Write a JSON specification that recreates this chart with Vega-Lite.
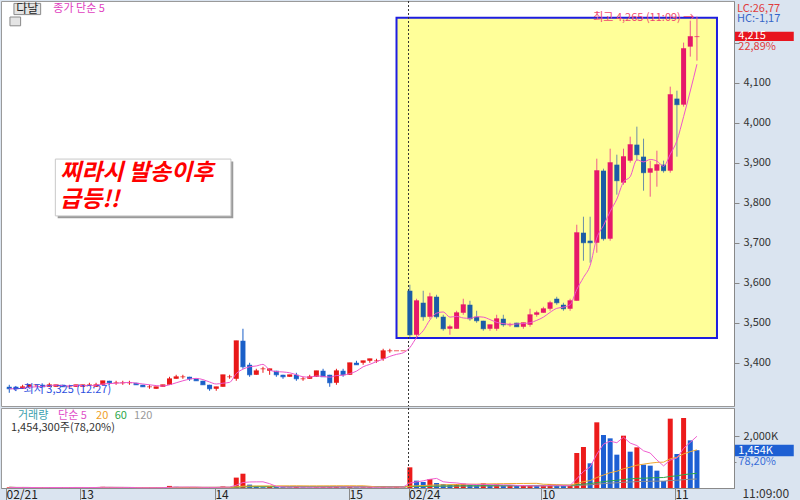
{
"$schema": "https://vega.github.io/schema/vega-lite/v6.json",
"background": "#dae4f0",
"padding": 0,
"spacing": 0,
"config": {"view": {"fill": "#ffffff", "stroke": "#9a9a9a"}, "font": "Noto Sans CJK KR", "text": {"font": "Noto Sans CJK KR"}, "axis": {"labelFont": "Noto Sans CJK KR"}},
"datasets": {
"candles": [
{"i":0,"o":3340,"h":3345,"l":3325,"c":3335,"v":25000},
{"i":1,"o":3340,"h":3340,"l":3330,"c":3335,"v":15000},
{"i":2,"o":3335,"h":3345,"l":3335,"c":3340,"v":20000},
{"i":3,"o":3340,"h":3345,"l":3340,"c":3345,"v":18000},
{"i":4,"o":3345,"h":3345,"l":3340,"c":3345,"v":10000},
{"i":5,"o":3345,"h":3345,"l":3340,"c":3340,"v":12000},
{"i":6,"o":3340,"h":3350,"l":3340,"c":3345,"v":30000},
{"i":7,"o":3340,"h":3345,"l":3340,"c":3345,"v":22000},
{"i":8,"o":3345,"h":3345,"l":3340,"c":3340,"v":15000},
{"i":9,"o":3340,"h":3345,"l":3340,"c":3340,"v":10000},
{"i":10,"o":3340,"h":3345,"l":3340,"c":3345,"v":25000},
{"i":11,"o":3340,"h":3345,"l":3340,"c":3345,"v":28000},
{"i":12,"o":3345,"h":3350,"l":3345,"c":3345,"v":12000},
{"i":13,"o":3340,"h":3350,"l":3340,"c":3345,"v":20000},
{"i":14,"o":3345,"h":3355,"l":3345,"c":3355,"v":45000},
{"i":15,"o":3355,"h":3355,"l":3345,"c":3350,"v":30000},
{"i":16,"o":3350,"h":3355,"l":3345,"c":3350,"v":12000},
{"i":17,"o":3350,"h":3355,"l":3345,"c":3350,"v":10000},
{"i":18,"o":3350,"h":3355,"l":3345,"c":3350,"v":8000},
{"i":19,"o":3350,"h":3350,"l":3345,"c":3345,"v":10000},
{"i":20,"o":3345,"h":3345,"l":3340,"c":3340,"v":12000},
{"i":21,"o":3340,"h":3345,"l":3335,"c":3340,"v":9000},
{"i":22,"o":3335,"h":3340,"l":3335,"c":3340,"v":20000},
{"i":23,"o":3340,"h":3345,"l":3340,"c":3345,"v":15000},
{"i":24,"o":3345,"h":3365,"l":3345,"c":3360,"v":80000},
{"i":25,"o":3360,"h":3370,"l":3360,"c":3365,"v":45000},
{"i":26,"o":3365,"h":3370,"l":3360,"c":3365,"v":20000},
{"i":27,"o":3365,"h":3365,"l":3355,"c":3360,"v":25000},
{"i":28,"o":3360,"h":3360,"l":3355,"c":3355,"v":12000},
{"i":29,"o":3355,"h":3355,"l":3345,"c":3345,"v":28000},
{"i":30,"o":3345,"h":3345,"l":3330,"c":3335,"v":35000},
{"i":31,"o":3335,"h":3340,"l":3330,"c":3340,"v":22000},
{"i":32,"o":3340,"h":3370,"l":3340,"c":3370,"v":60000},
{"i":33,"o":3365,"h":3370,"l":3360,"c":3365,"v":20000},
{"i":34,"o":3360,"h":3455,"l":3355,"c":3455,"v":400000},
{"i":35,"o":3455,"h":3485,"l":3385,"c":3390,"v":550000},
{"i":36,"o":3395,"h":3400,"l":3365,"c":3370,"v":130000},
{"i":37,"o":3370,"h":3385,"l":3370,"c":3380,"v":80000},
{"i":38,"o":3385,"h":3390,"l":3375,"c":3385,"v":30000},
{"i":39,"o":3380,"h":3385,"l":3370,"c":3385,"v":40000},
{"i":40,"o":3380,"h":3380,"l":3365,"c":3370,"v":35000},
{"i":41,"o":3370,"h":3370,"l":3360,"c":3365,"v":30000},
{"i":42,"o":3365,"h":3370,"l":3365,"c":3370,"v":28000},
{"i":43,"o":3370,"h":3375,"l":3355,"c":3360,"v":50000},
{"i":44,"o":3360,"h":3365,"l":3355,"c":3360,"v":25000},
{"i":45,"o":3360,"h":3370,"l":3360,"c":3365,"v":20000},
{"i":46,"o":3365,"h":3380,"l":3365,"c":3380,"v":30000},
{"i":47,"o":3380,"h":3385,"l":3365,"c":3365,"v":35000},
{"i":48,"o":3370,"h":3370,"l":3340,"c":3350,"v":45000},
{"i":49,"o":3350,"h":3385,"l":3345,"c":3380,"v":55000},
{"i":50,"o":3380,"h":3385,"l":3365,"c":3370,"v":30000},
{"i":51,"o":3370,"h":3400,"l":3370,"c":3400,"v":40000},
{"i":52,"o":3400,"h":3405,"l":3395,"c":3395,"v":25000},
{"i":53,"o":3400,"h":3405,"l":3395,"c":3405,"v":30000},
{"i":54,"o":3405,"h":3410,"l":3400,"c":3410,"v":35000},
{"i":55,"o":3405,"h":3410,"l":3400,"c":3405,"v":20000},
{"i":56,"o":3410,"h":3435,"l":3405,"c":3430,"v":55000},
{"i":57,"o":3430,"h":3435,"l":3425,"c":3430,"v":30000},
{"i":58,"o":3430,"h":3430,"l":3430,"c":3430,"v":50000},
{"i":59,"o":3430,"h":3430,"l":3430,"c":3430,"v":20000},
{"i":60,"o":3580,"h":3595,"l":3465,"c":3470,"v":795000},
{"i":61,"o":3470,"h":3560,"l":3465,"c":3555,"v":282000},
{"i":62,"o":3550,"h":3580,"l":3505,"c":3515,"v":230000},
{"i":63,"o":3515,"h":3575,"l":3510,"c":3565,"v":346000},
{"i":64,"o":3565,"h":3570,"l":3510,"c":3515,"v":192000},
{"i":65,"o":3515,"h":3520,"l":3480,"c":3485,"v":154000},
{"i":66,"o":3485,"h":3495,"l":3470,"c":3490,"v":128000},
{"i":67,"o":3485,"h":3530,"l":3485,"c":3525,"v":154000},
{"i":68,"o":3525,"h":3560,"l":3520,"c":3545,"v":167000},
{"i":69,"o":3545,"h":3555,"l":3505,"c":3510,"v":115000},
{"i":70,"o":3515,"h":3530,"l":3500,"c":3505,"v":103000},
{"i":71,"o":3505,"h":3505,"l":3480,"c":3485,"v":180000},
{"i":72,"o":3485,"h":3495,"l":3480,"c":3495,"v":90000},
{"i":73,"o":3485,"h":3520,"l":3480,"c":3510,"v":141000},
{"i":74,"o":3510,"h":3520,"l":3490,"c":3495,"v":90000},
{"i":75,"o":3495,"h":3500,"l":3490,"c":3495,"v":95000},
{"i":76,"o":3500,"h":3500,"l":3490,"c":3490,"v":77000},
{"i":77,"o":3490,"h":3500,"l":3485,"c":3500,"v":80000},
{"i":78,"o":3495,"h":3535,"l":3490,"c":3520,"v":95000},
{"i":79,"o":3520,"h":3530,"l":3515,"c":3525,"v":77000},
{"i":80,"o":3525,"h":3540,"l":3525,"c":3535,"v":100000},
{"i":81,"o":3535,"h":3555,"l":3530,"c":3550,"v":154000},
{"i":82,"o":3560,"h":3565,"l":3545,"c":3550,"v":90000},
{"i":83,"o":3545,"h":3550,"l":3530,"c":3535,"v":77000},
{"i":84,"o":3535,"h":3560,"l":3530,"c":3555,"v":90000},
{"i":85,"o":3555,"h":3745,"l":3555,"c":3725,"v":1346000},
{"i":86,"o":3725,"h":3765,"l":3655,"c":3700,"v":1577000},
{"i":87,"o":3705,"h":3765,"l":3650,"c":3700,"v":950000},
{"i":88,"o":3700,"h":3910,"l":3675,"c":3880,"v":2526000},
{"i":89,"o":3880,"h":3885,"l":3705,"c":3710,"v":2038000},
{"i":90,"o":3710,"h":3935,"l":3705,"c":3900,"v":1910000},
{"i":91,"o":3895,"h":3920,"l":3820,"c":3855,"v":1282000},
{"i":92,"o":3850,"h":3935,"l":3845,"c":3915,"v":2013000},
{"i":93,"o":3905,"h":3965,"l":3900,"c":3945,"v":1397000},
{"i":94,"o":3945,"h":3990,"l":3905,"c":3920,"v":1564000},
{"i":95,"o":3915,"h":3960,"l":3830,"c":3875,"v":897000},
{"i":96,"o":3875,"h":3905,"l":3815,"c":3885,"v":859000},
{"i":97,"o":3880,"h":3930,"l":3840,"c":3895,"v":667000},
{"i":98,"o":3895,"h":3905,"l":3875,"c":3880,"v":270000},
{"i":99,"o":3880,"h":4090,"l":3875,"c":4070,"v":2667000},
{"i":100,"o":4060,"h":4080,"l":3915,"c":4045,"v":1308000},
{"i":101,"o":4045,"h":4200,"l":4040,"c":4185,"v":2692000},
{"i":102,"o":4190,"h":4255,"l":4165,"c":4215,"v":1833000},
{"i":103,"o":4215,"h":4265,"l":4155,"c":4215,"v":1454300}
]
},
"vconcat": [
{
"width": 733, "height": 405,
"encoding": {"x": {"field": "i", "type": "quantitative", "scale": {"domain": [-0.49, 107.8], "nice": false, "zero": false}, "axis": null}},
"layer": [
{"data": {"values": [{"i": 58.0, "i2": 106.0, "p": 3462, "p2": 4262}]},
 "mark": {"type": "rect", "fill": "#ffff99", "stroke": "#1e1ee0", "strokeWidth": 2},
 "encoding": {"x2": {"field": "i2"},
  "y": {"field": "p", "type": "quantitative", "title": null, "scale": {"domain": [3292, 4304], "nice": false, "zero": false},
   "axis": {"orient": "right", "title": null, "grid": false,
    "values": [3400,3425,3450,3475,3500,3525,3550,3575,3600,3625,3650,3675,3700,3725,3750,3775,3800,3825,3850,3875,3900,3925,3950,3975,4000,4025,4050,4075,4100,4125,4150,4175,4200,4225,4250,4275],
    "labelExpr": "(datum.value % 100 == 0 && datum.value <= 4100) ? format(datum.value, ',') : ''",
    "tickSize": {"condition": {"test": "datum.value % 100 == 0", "value": 5}, "value": 2},
    "tickColor": "#888", "domainColor": "#888", "labelColor": "#333", "labelFontSize": 11, "labelPadding": 4,
    "labelOverlap": false, "labelBound": false, "labelFlush": false, "minExtent": 67, "maxExtent": 67}},
  "y2": {"field": "p2"}}},
{"data": {"values": [{"i": 59.8}]}, "mark": {"type": "rule", "color": "#333", "strokeDash": [2, 2], "strokeWidth": 1}, "encoding": {}},
{"data": {"name": "candles"},
 "mark": {"type": "rule", "strokeWidth": 1},
 "encoding": {"y": {"field": "l", "type": "quantitative", "title": null}, "y2": {"field": "h"},
  "color": {"condition": [{"test": "datum.i >= 60 && datum.c >= datum.o", "value": "#ef5a8c"}, {"test": "datum.i >= 60", "value": "#6b8ea6"}, {"test": "datum.c >= datum.o", "value": "#e81818"}], "value": "#1a5fc8"}}},
{"data": {"name": "candles"},
 "mark": {"type": "bar", "width": 5},
 "encoding": {"y": {"field": "o", "type": "quantitative", "title": null}, "y2": {"field": "c"},
  "color": {"condition": [{"test": "datum.i >= 60 && datum.c >= datum.o", "value": "#e6186a"}, {"test": "datum.i >= 60", "value": "#1b5ca6"}, {"test": "datum.c >= datum.o", "value": "#e81818"}], "value": "#1a5fc8"}}},
{"data": {"name": "candles"},
 "mark": {"type": "tick", "orient": "horizontal", "size": 5, "thickness": 1},
 "encoding": {"y": {"field": "c", "type": "quantitative", "title": null},
  "color": {"condition": [{"test": "datum.i >= 60 && datum.c >= datum.o", "value": "#e6186a"}, {"test": "datum.i >= 60", "value": "#1b5ca6"}, {"test": "datum.c >= datum.o", "value": "#e81818"}], "value": "#1a5fc8"}}},
{"data": {"name": "candles"},
 "transform": [{"window": [{"op": "mean", "field": "c", "as": "ma"}], "frame": [-4, 0], "sort": [{"field": "i"}]}],
 "mark": {"type": "line", "color": "#ee55cc", "strokeWidth": 1, "interpolate": "monotone"},
 "encoding": {"y": {"field": "ma", "type": "quantitative", "title": null}}},
{"data": {"values": [{"i": 7.25, "i2": 33.55, "p": 3761, "p2": 3903}]},
 "mark": {"type": "rect", "fill": "#9a9a9a"},
 "encoding": {"x2": {"field": "i2"}, "y": {"field": "p", "type": "quantitative", "title": null}, "y2": {"field": "p2"}}},
{"data": {"values": [{"i": 6.9, "i2": 33.2, "p": 3767, "p2": 3909}]},
 "mark": {"type": "rect", "fill": "#ffffff", "stroke": "#c8c8c8", "strokeWidth": 1},
 "encoding": {"x2": {"field": "i2"}, "y": {"field": "p", "type": "quantitative", "title": null}, "y2": {"field": "p2"}}},
{"data": {"values": [{"i": 7.6, "p": 3873, "t": "찌라시 발송이후"}, {"i": 7.6, "p": 3806, "t": "급등!!"}]},
 "mark": {"type": "text", "align": "left", "baseline": "middle", "fontSize": 23, "fontWeight": "bold", "fontStyle": "italic", "color": "#ff0000"},
 "encoding": {"y": {"field": "p", "type": "quantitative", "title": null}, "text": {"field": "t"}}},
{"data": {"values": [{"i": 102.6, "p": 4262, "t": "최고 4,265 (11:09) →"}]},
 "mark": {"type": "text", "align": "right", "baseline": "middle", "fontSize": 11, "color": "#f04a6e"},
 "encoding": {"y": {"field": "p", "type": "quantitative", "title": null}, "text": {"field": "t"}}},
{"data": {"values": [{"i": 0.5, "p": 3333, "t": "←최저 3,325 (12:27)"}]},
 "mark": {"type": "text", "align": "left", "baseline": "middle", "fontSize": 11, "color": "#2d4fe0"},
 "encoding": {"y": {"field": "p", "type": "quantitative", "title": null}, "text": {"field": "t"}}},
{"data": {"values": [{"i": 0.7, "i2": 4.7, "p": 4270, "p2": 4298}, {"i": 0.1, "i2": 1.7, "p": 4242, "p2": 4264}]},
 "mark": {"type": "rect", "fill": "#e4e4e4", "stroke": "#8a8a8a", "strokeWidth": 1},
 "encoding": {"x2": {"field": "i2"}, "y": {"field": "p", "type": "quantitative", "title": null}, "y2": {"field": "p2"}}},
{"data": {"values": [{"i": 2.7, "p": 4284, "t": "다날"}]},
 "mark": {"type": "text", "align": "center", "baseline": "middle", "fontSize": 12, "color": "#222"},
 "encoding": {"y": {"field": "p", "type": "quantitative", "title": null}, "text": {"field": "t"}}},
{"data": {"values": [{"i": 6.6, "p": 4284, "t": "종가 단순 5"}]},
 "mark": {"type": "text", "align": "left", "baseline": "middle", "fontSize": 11, "color": "#e040c0"},
 "encoding": {"y": {"field": "p", "type": "quantitative", "title": null}, "text": {"field": "t"}}},
{"data": {"values": [{"i": 108.7, "i2": 117.5, "p": 4204, "p2": 4227}]},
 "mark": {"type": "rect", "fill": "#e8141e"},
 "encoding": {"x2": {"field": "i2"}, "y": {"field": "p", "type": "quantitative", "title": null}, "y2": {"field": "p2"}}},
{"data": {"values": [{"i": 109.2, "p": 4216, "t": "4,215"}]},
 "mark": {"type": "text", "align": "left", "baseline": "middle", "fontSize": 11, "color": "#ffffff"},
 "encoding": {"y": {"field": "p", "type": "quantitative", "title": null}, "text": {"field": "t"}}},
{"data": {"values": [{"i": 109.0, "p": 4285, "t": "LC:26,77"}, {"i": 109.2, "p": 4189, "t": "22,89%"}]},
 "mark": {"type": "text", "align": "left", "baseline": "middle", "fontSize": 11, "color": "#e03c3c"},
 "encoding": {"y": {"field": "p", "type": "quantitative", "title": null}, "text": {"field": "t"}}},
{"data": {"values": [{"i": 109.0, "p": 4258, "t": "HC:-1,17"}]},
 "mark": {"type": "text", "align": "left", "baseline": "middle", "fontSize": 11, "color": "#3565c8"},
 "encoding": {"y": {"field": "p", "type": "quantitative", "title": null}, "text": {"field": "t"}}}
]
},
{
"width": 733, "height": 80,
"encoding": {"x": {"field": "i", "type": "quantitative", "scale": {"domain": [-0.49, 107.8], "nice": false, "zero": false},
 "axis": {"title": null, "grid": false, "values": [-0.49, 10.6, 30.8, 50.9, 59.8, 79.7, 99.7],
  "labelExpr": "datum.value < 0 ? '02/21' : datum.value < 20 ? '13' : datum.value < 40 ? '14' : datum.value < 55 ? '15' : datum.value < 70 ? '02/24' : datum.value < 90 ? '10' : '11'",
  "tickSize": 15, "tickColor": "#8a8a8a", "domainColor": "#8a8a8a", "labelAlign": "left", "labelBaseline": "middle", "labelDx": 4, "labelPadding": -9,
  "labelFontSize": 12, "labelColor": "#222", "labelFlush": false, "labelOverlap": false, "labelBound": false, "minExtent": 15, "maxExtent": 15}}},
"layer": [
{"data": {"name": "candles"},
 "transform": [{"window": [{"op": "lag", "field": "v", "as": "pv"}], "sort": [{"field": "i"}]}],
 "mark": {"type": "bar", "width": 5},
 "encoding": {"y": {"field": "v", "type": "quantitative", "title": null, "scale": {"domain": [0, 3077000], "nice": false, "zero": true},
   "axis": {"orient": "right", "title": null, "grid": false, "values": [1000000, 2000000],
    "labelExpr": "datum.value == 2000000 ? '2,000K' : ''",
    "tickSize": {"condition": {"test": "datum.value == 2000000", "value": 5}, "value": 2},
    "tickColor": "#888", "domainColor": "#888", "labelColor": "#333", "labelFontSize": 11, "labelPadding": 4,
    "labelOverlap": false, "labelBound": false, "labelFlush": false, "minExtent": 67, "maxExtent": 67}},
  "color": {"condition": {"test": "datum.pv == null || datum.v >= datum.pv", "value": "#ec1b1b"}, "value": "#1d5fd3"}}},
{"data": {"name": "candles"},
 "transform": [{"window": [{"op": "mean", "field": "v", "as": "m"}], "frame": [-119, 0], "sort": [{"field": "i"}]}],
 "mark": {"type": "line", "color": "#8c8c8c", "strokeWidth": 1},
 "encoding": {"y": {"field": "m", "type": "quantitative", "title": null}}},
{"data": {"name": "candles"},
 "transform": [{"window": [{"op": "mean", "field": "v", "as": "m"}], "frame": [-59, 0], "sort": [{"field": "i"}]}],
 "mark": {"type": "line", "color": "#2ea84a", "strokeWidth": 1},
 "encoding": {"y": {"field": "m", "type": "quantitative", "title": null}}},
{"data": {"name": "candles"},
 "transform": [{"window": [{"op": "mean", "field": "v", "as": "m"}], "frame": [-19, 0], "sort": [{"field": "i"}]}],
 "mark": {"type": "line", "color": "#f0a830", "strokeWidth": 1},
 "encoding": {"y": {"field": "m", "type": "quantitative", "title": null}}},
{"data": {"name": "candles"},
 "transform": [{"window": [{"op": "mean", "field": "v", "as": "m"}], "frame": [-4, 0], "sort": [{"field": "i"}]}],
 "mark": {"type": "line", "color": "#f060d0", "strokeWidth": 1},
 "encoding": {"y": {"field": "m", "type": "quantitative", "title": null}}},
{"data": {"values": [{"i": 59.8}]}, "mark": {"type": "rule", "color": "#333", "strokeDash": [2, 2], "strokeWidth": 1}, "encoding": {}},
{"data": {"values": [{"i": 1.3, "v": 2758000, "t": "거래량"}]},
 "mark": {"type": "text", "align": "left", "baseline": "middle", "fontSize": 11, "color": "#3a9fae"},
 "encoding": {"y": {"field": "v", "type": "quantitative", "title": null}, "text": {"field": "t"}}},
{"data": {"values": [{"i": 7.3, "v": 2758000, "t": "단순 5"}]},
 "mark": {"type": "text", "align": "left", "baseline": "middle", "fontSize": 11, "color": "#e050c8"},
 "encoding": {"y": {"field": "v", "type": "quantitative", "title": null}, "text": {"field": "t"}}},
{"data": {"values": [{"i": 13.0, "v": 2758000, "t": "20"}]},
 "mark": {"type": "text", "align": "left", "baseline": "middle", "fontSize": 11, "color": "#f0a028"},
 "encoding": {"y": {"field": "v", "type": "quantitative", "title": null}, "text": {"field": "t"}}},
{"data": {"values": [{"i": 15.8, "v": 2758000, "t": "60"}]},
 "mark": {"type": "text", "align": "left", "baseline": "middle", "fontSize": 11, "color": "#2ea84a"},
 "encoding": {"y": {"field": "v", "type": "quantitative", "title": null}, "text": {"field": "t"}}},
{"data": {"values": [{"i": 18.7, "v": 2758000, "t": "120"}]},
 "mark": {"type": "text", "align": "left", "baseline": "middle", "fontSize": 11, "color": "#9a9a9a"},
 "encoding": {"y": {"field": "v", "type": "quantitative", "title": null}, "text": {"field": "t"}}},
{"data": {"values": [{"i": 0.25, "v": 2308000, "t": "1,454,300주(78,20%)"}]},
 "mark": {"type": "text", "align": "left", "baseline": "middle", "fontSize": 11, "color": "#333"},
 "encoding": {"y": {"field": "v", "type": "quantitative", "title": null}, "text": {"field": "t"}}},
{"data": {"values": [{"i": 108.7, "i2": 117.5, "v": 1219000, "v2": 1665000}]},
 "mark": {"type": "rect", "fill": "#1d5fd3"},
 "encoding": {"x2": {"field": "i2"}, "y": {"field": "v", "type": "quantitative", "title": null}, "y2": {"field": "v2"}}},
{"data": {"values": [{"i": 109.2, "v": 1440000, "t": "1,454K"}]},
 "mark": {"type": "text", "align": "left", "baseline": "middle", "fontSize": 11, "color": "#ffffff"},
 "encoding": {"y": {"field": "v", "type": "quantitative", "title": null}, "text": {"field": "t"}}},
{"data": {"values": [{"i": 109.2, "v": 988000, "t": "78,20%"}]},
 "mark": {"type": "text", "align": "left", "baseline": "middle", "fontSize": 11, "color": "#3a6fd8"},
 "encoding": {"y": {"field": "v", "type": "quantitative", "title": null}, "text": {"field": "t"}}},
{"data": {"values": [{"i": 113.3, "v": -240000, "t": "11:09:00"}]},
 "mark": {"type": "text", "align": "center", "baseline": "middle", "fontSize": 12, "color": "#333"},
 "encoding": {"y": {"field": "v", "type": "quantitative", "title": null}, "text": {"field": "t"}}}
]
}
]
}
